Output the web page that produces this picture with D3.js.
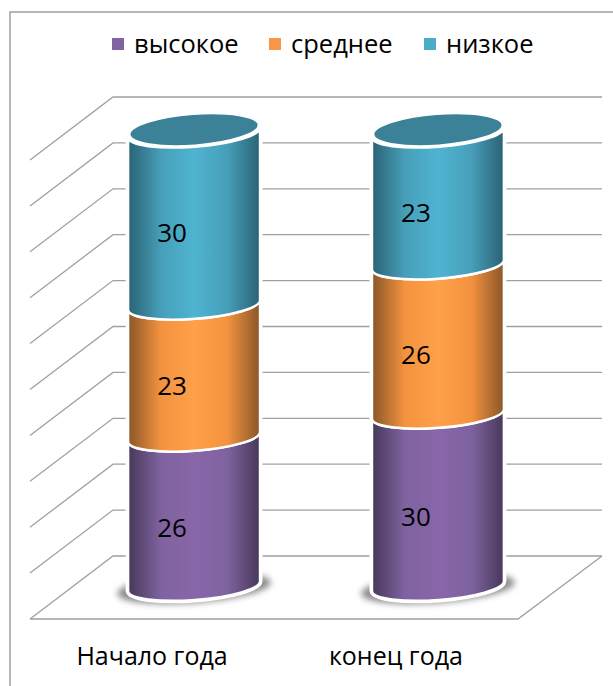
<!DOCTYPE html>
<html>
<head>
<meta charset="utf-8">
<script src="https://cdn.jsdelivr.net/npm/d3@7"></script>
<style>
  html, body { margin: 0; padding: 0; background: #fff; overflow: hidden; }
  text { font-family: "Open Sans", sans-serif; fill: #000; }
</style>
</head>
<body>
<div class="canva"></div>
<script>
// data
const categories = ["Начало года", "конец года"];
const seriesNames = ["высокое", "среднее", "низкое"];
const vysokoe = [26, 30];
const srednee = [23, 26];
const nizkoe = [30, 23];
const gridValues = [0, 8, 16, 24, 32, 40, 48, 56, 64, 72, 80];

const seriesColors = [
  {side: "#473859", key: "#8064a2", mid: "#7f63a0", light: "#8966a8"},
  {side: "#8a5628", key: "#f79646", mid: "#f4933f", light: "#ffa04a"},
  {side: "#2a6274", key: "#4bacc6", mid: "#479fb9", light: "#4fb4d1"}
];
const topColor = "#3b8299";

const svg = d3.select(".canva").append("svg")
  .attr("width", 613)
  .attr("height", 686);

// 3d box of the chart
const depthX = 83, depthY = 63;
const x = d3.scaleBand().domain(categories).range([30, 518]).paddingInner(0.459).paddingOuter(0.23);
const y = d3.scaleLinear().domain([0, 80]).range([619, 160]);
const barX = d3.scaleBand().domain(categories).range([72, 560]).paddingInner(0.459).paddingOuter(0.23);
const barY = d3.scaleLinear().domain([0, 80]).range([591, 132]);

// outer frame, only left and top show in the window
svg.append("rect")
  .attr("x", 10).attr("y", 12)
  .attr("width", 800).attr("height", 900)
  .attr("fill", "#fff")
  .attr("stroke", "#a0a0a0")
  .attr("stroke-width", 1.5);

const defs = svg.append("defs");
defs.append("filter").attr("id", "blur")
  .attr("x", "-20%").attr("y", "-40%").attr("width", "140%").attr("height", "180%")
  .append("feGaussianBlur").attr("stdDeviation", 3);

seriesColors.forEach(function (c, i) {
  const g = defs.append("linearGradient").attr("id", "grad" + i);
  [[0, c.side], [0.25, c.mid], [0.5, c.light], [0.75, c.mid], [1, c.side]].forEach(function (s) {
    g.append("stop").attr("offset", s[0]).attr("stop-color", s[1]);
  });
});

// grid lines, back wall and left wall
const grid = svg.append("g")
  .attr("stroke", "#a0a0a0")
  .attr("stroke-width", 1.3)
  .attr("fill", "none");

gridValues.forEach(function (v) {
  const yBack = y(v) - depthY;
  grid.append("path")
    .attr("d", `M30,${y(v)}L${30 + depthX},${yBack}L602,${yBack}`);
});
// floor
grid.append("path").attr("d", `M30,${y(0)}L518,${y(0)}L602,${y(0) - depthY}`);

// cylinders
const tilt = 10, ry = 14;
const rot = Math.atan2(-tilt, 132) * 180 / Math.PI;

function segment(xl, xr, y0, y1) {
  const rx = Math.hypot(xr - xl, tilt) / 2;
  return `M${xl},${y1}A${rx},${ry} ${rot} 0 0 ${xr},${y1 - tilt}` +
         `L${xr},${y0 - tilt}A${rx},${ry} ${rot} 0 1 ${xl},${y0}Z`;
}

const seriesValues = [vysokoe, srednee, nizkoe];

categories.forEach(function (cat, i) {
  const xl = barX(cat);
  const xr = xl + barX.bandwidth();
  const cx = (xl + xr) / 2;
  const total = d3.sum(seriesValues, s => s[i]);
  const g = svg.append("g");

  // shadow on the floor
  g.append("ellipse")
    .attr("cx", cx).attr("cy", barY(0) - 3)
    .attr("rx", barX.bandwidth() / 2 + 11).attr("ry", 15)
    .attr("transform", `rotate(${rot} ${cx} ${barY(0) - 3})`)
    .attr("fill", "#8a8a8a")
    .attr("filter", "url(#blur)");

  // white halo that cuts the grid lines
  g.append("path")
    .attr("d", segment(xl, xr, barY(0), barY(total)))
    .attr("fill", "#fff")
    .attr("stroke", "#fff")
    .attr("stroke-width", 5);

  let base = 0;
  seriesValues.forEach(function (s, j) {
    g.append("path")
      .attr("d", segment(xl, xr, barY(base), barY(base + s[i])))
      .attr("fill", `url(#grad${j})`)
      .attr("stroke", "#fff")
      .attr("stroke-width", 2.5);
    base += s[i];
  });

  // top of the cylinder
  const yTop = barY(total) - 8;
  g.append("ellipse")
    .attr("cx", cx).attr("cy", yTop)
    .attr("rx", barX.bandwidth() / 2 - 1).attr("ry", ry + 2)
    .attr("transform", `rotate(${rot} ${cx} ${yTop})`)
    .attr("fill", topColor)
    .attr("stroke", "#fff")
    .attr("stroke-width", 2.5);

  // value labels
  base = 0;
  seriesValues.forEach(function (s, j) {
    svg.append("text")
      .attr("x", cx - 22)
      .attr("y", barY(base + s[i] / 2) + 21 - j * 1.5)
      .attr("text-anchor", "middle")
      .attr("font-size", 26)
      .text(s[i]);
    base += s[i];
  });

  // category labels
  svg.append("text")
    .attr("x", x(cat) + x.bandwidth() / 2)
    .attr("y", 665)
    .attr("text-anchor", "middle")
    .attr("font-size", 25)
    .text(cat);
});

// legend
const legendX = [112, 269, 424];
seriesNames.forEach(function (name, i) {
  svg.append("rect")
    .attr("x", legendX[i]).attr("y", 38)
    .attr("width", 12).attr("height", 12)
    .attr("fill", seriesColors[i].key);
  svg.append("text")
    .attr("x", legendX[i] + 22)
    .attr("y", 53)
    .attr("font-size", 25.5)
    .text(name);
});
</script>
</body>
</html>
